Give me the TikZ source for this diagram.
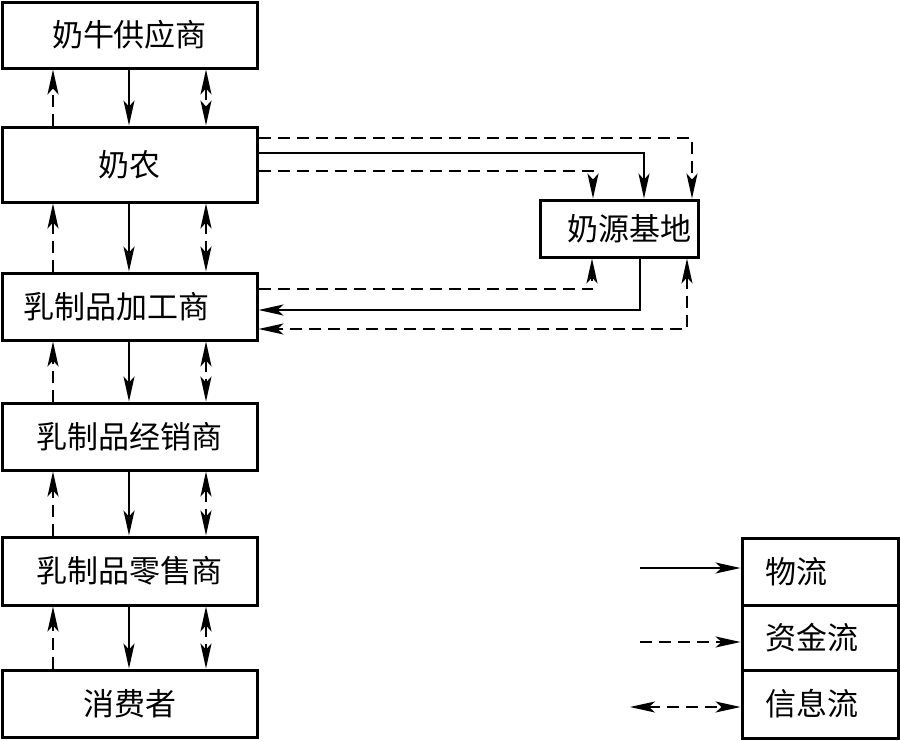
\documentclass[tikz,border=0pt]{standalone}
\usepackage{fontspec}
\newfontfamily\cjk{Noto Sans CJK SC}
\usetikzlibrary{arrows.meta}
\begin{document}
\begin{tikzpicture}[x=1pt,y=-1pt,
  box/.style={draw,line width=3pt,minimum width=255pt,inner sep=0pt,
    font=\cjk\fontsize{31pt}{36pt}\selectfont},
  conn/.style={line width=1.8pt},
  tipa/.tip={Stealth[length=25pt,width=11pt,inset=6pt]},
  flow/.style={conn,-tipa},
  money/.style={conn,dash pattern=on 12pt off 7pt,-tipa},
  info/.style={conn,dash pattern=on 12pt off 7pt,tipa-tipa}
]
\fill[white] (0,0) rectangle (900,740);
\useasboundingbox (0,0) rectangle (900,740);

% left column
\node[box,minimum height=66pt] (B1) at (129.5,35) {奶牛供应商};
\node[box,minimum height=75pt] (B2) at (129.5,164.5) {奶农};
\node[box,minimum height=67pt] (B3) at (129.5,306.5) {乳制品加工商\hspace*{26pt}};
\node[box,minimum height=67pt] (B4) at (129.5,436.5) {乳制品经销商};
\node[box,minimum height=68pt] (B5) at (129.5,571) {乳制品零售商};
\node[box,minimum height=67pt] (B6) at (129.5,703.5) {消费者};

% milk source base
\node[box,minimum width=158pt,minimum height=57pt] (Y) at (619,228.5) {\hspace*{20pt}奶源基地};

% legend
\node[box,minimum width=156pt,minimum height=67pt,text width=110pt,align=left] (L1) at (820,571.5) {物流};
\node[box,minimum width=156pt,minimum height=65pt,text width=110pt,align=left] (L2) at (820,637.5) {资金流};
\node[box,minimum width=156pt,minimum height=68pt,text width=110pt,align=left] (L3) at (820,704) {信息流};

\coordinate (lg1) at (640,568);
\coordinate (lg2) at (640,642);
\coordinate (lg3) at (630,707);
\draw[flow] (lg1) -- (lg1 -| L1.west);
\draw[money] (lg2) -- (lg2 -| L2.west);
\draw[info] (lg3) -- (lg3 -| L3.west);

% vertical connectors
\coordinate (xa) at (53,0);
\coordinate (xb) at (129,0);
\coordinate (xc) at (206,0);
\foreach \u/\l in {B1/B2,B2/B3,B3/B4,B4/B5,B5/B6}{
  \draw[money] (\l.north -| xa) -- (\u.south -| xa);
  \draw[flow] (\u.south -| xb) -- (\l.north -| xb);
  \draw[info] (\u.south -| xc) -- (\l.north -| xc);
}

% 奶农 -> 奶源基地
\coordinate (t1) at (692,138);
\coordinate (t2) at (644,153);
\coordinate (t3) at (593,171);
\draw[money] (B2.east |- t1) -- (t1) -- (Y.north -| t1);
\draw[flow] (B2.east |- t2) -- (t2) -- (Y.north -| t2);
\draw[money] (B2.east |- t3) -- (t3) -- (Y.north -| t3);

% 奶源基地 <-> 乳制品加工商
\coordinate (b1) at (592,289);
\coordinate (b2) at (640,310);
\coordinate (b3) at (687,329);
\draw[money] (B3.east |- b1) -- (b1) -- (Y.south -| b1);
\draw[flow] (Y.south -| b2) -- (b2) -- (B3.east |- b2);
\draw[info] (Y.south -| b3) -- (b3) -- (B3.east |- b3);
\end{tikzpicture}
\end{document}
